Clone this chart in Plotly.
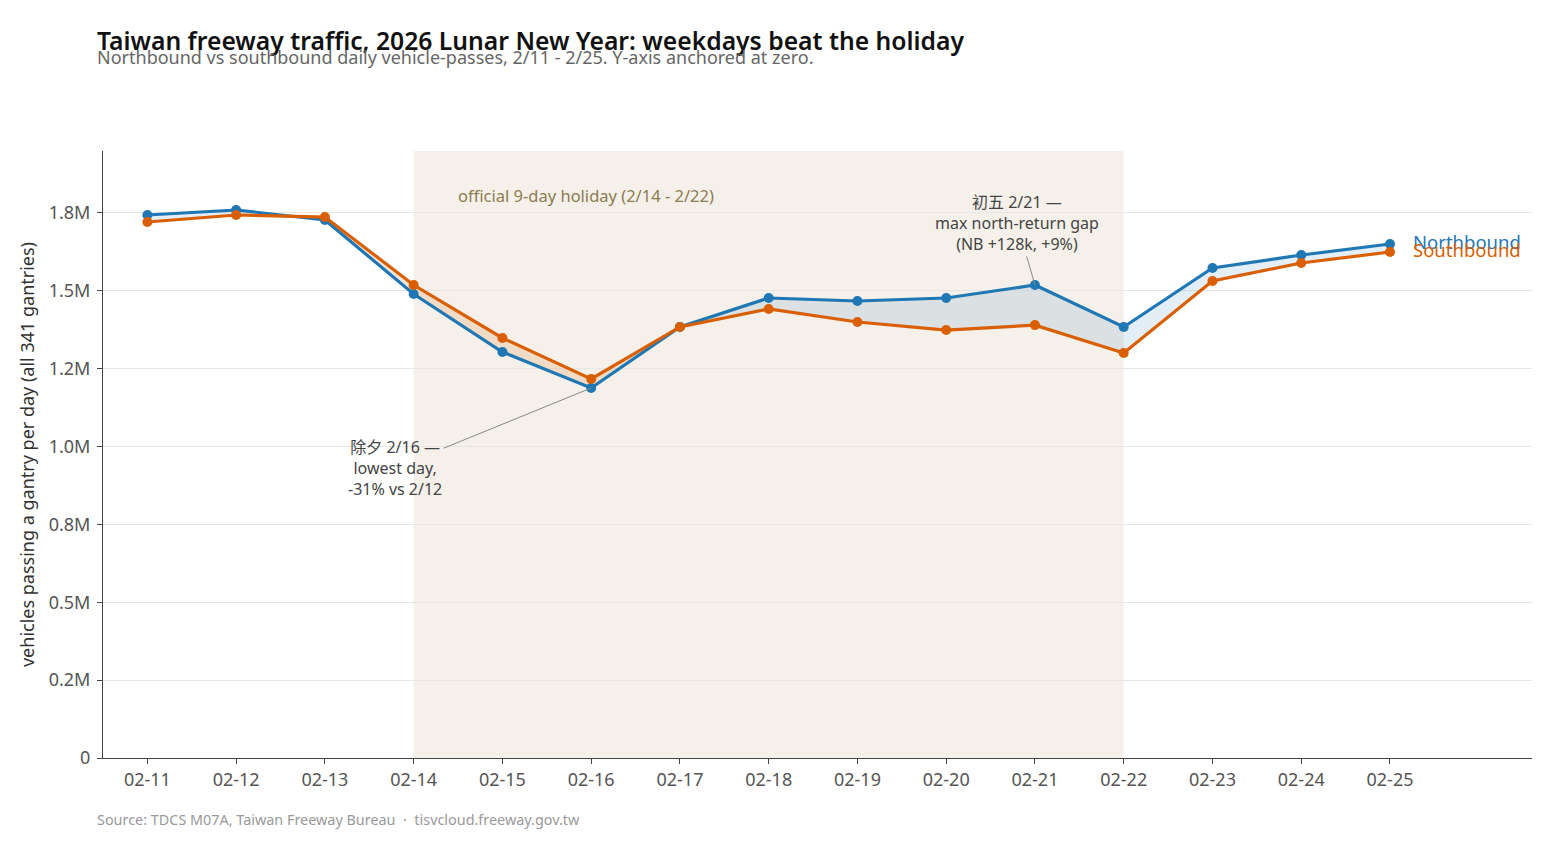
import plotly.graph_objects as go

dates = ["02-11", "02-12", "02-13", "02-14", "02-15", "02-16", "02-17", "02-18",
         "02-19", "02-20", "02-21", "02-22", "02-23", "02-24", "02-25"]
northbound = [1743500, 1759600, 1727500, 1489800, 1303600, 1188000, 1384000, 1477000,
              1467400, 1477000, 1518700, 1384000, 1573300, 1615000, 1650400]
southbound = [1721000, 1743500, 1737000, 1518700, 1348600, 1217000, 1384000, 1441700,
              1400000, 1374000, 1390000, 1300400, 1531600, 1589400, 1624700]
ytick_vals = [0, 250000, 500000, 750000, 1000000, 1250000, 1500000, 1750000]
ytick_text = ["0", "0.2M", "0.5M", "0.8M", "1.0M", "1.2M", "1.5M", "1.8M"]

NB_COL = "#1f77b4"
SB_COL = "#d95f02"
FONT = "Noto Sans, Noto Sans CJK TC, sans-serif"

xs = list(range(len(dates)))
fig = go.Figure()

# holiday band 2/14 - 2/22
fig.add_vrect(x0=xs[3], x1=xs[11], fillcolor="#f5f1ea", line_width=0, layer="below")

# fill between lines, per segment, split at crossings
for i in range(len(xs) - 1):
    x0, x1 = xs[i], xs[i + 1]
    n0, n1 = northbound[i], northbound[i + 1]
    s0, s1 = southbound[i], southbound[i + 1]
    d0, d1 = n0 - s0, n1 - s1
    pieces = []
    if d0 * d1 < 0:
        t = d0 / (d0 - d1)
        xc = x0 + t * (x1 - x0)
        yc = n0 + t * (n1 - n0)
        pieces.append(([x0, xc, x0], [n0, yc, s0], d0 > 0))
        pieces.append(([xc, x1, x1], [yc, n1, s1], d1 > 0))
    else:
        pieces.append(([x0, x1, x1, x0], [n0, n1, s1, s0], (d0 + d1) >= 0))
    for px, py, nb_up in pieces:
        fig.add_trace(go.Scatter(
            x=px + [px[0]], y=py + [py[0]], mode="lines", fill="toself",
            fillcolor="rgba(31,119,180,0.12)" if nb_up else "rgba(217,95,2,0.15)",
            line=dict(width=0), hoverinfo="skip", showlegend=False))

fig.add_trace(go.Scatter(x=xs, y=northbound, mode="lines+markers", name="Northbound",
                         line=dict(color=NB_COL, width=3.2), marker=dict(size=10, color=NB_COL),
                         showlegend=False))
fig.add_trace(go.Scatter(x=xs, y=southbound, mode="lines+markers", name="Southbound",
                         line=dict(color=SB_COL, width=3.2), marker=dict(size=10, color=SB_COL),
                         showlegend=False))

# end labels
fig.add_annotation(x=xs[-1], y=northbound[-1], text="Northbound", showarrow=False,
                   xanchor="left", yanchor="middle", xshift=21, yshift=3,
                   font=dict(family=FONT, size=18.5, color=NB_COL))
fig.add_annotation(x=xs[-1], y=southbound[-1], text="Southbound", showarrow=False,
                   xanchor="left", yanchor="middle", xshift=21, yshift=3,
                   font=dict(family=FONT, size=18.5, color=SB_COL))

# holiday label
fig.add_annotation(x=3.5, y=0.9275, yref="paper", text="official 9-day holiday (2/14 - 2/22)",
                   showarrow=False, xanchor="left", yanchor="middle", xshift=-2,
                   font=dict(family=FONT, size=16.5, color="#8c7b50"))

# callouts
fig.add_annotation(x=xs[10], y=northbound[10],
                   text="初五 2/21 —<br>max north-return gap<br>(NB +128k, +9%)",
                   showarrow=True, arrowhead=0, arrowwidth=1, arrowcolor="#888888",
                   ax=-18, ay=-62, align="center",
                   font=dict(family=FONT, size=16, color="#444444"))
fig.add_annotation(x=xs[5], y=northbound[5],
                   text="除夕 2/16 —<br>lowest day,<br>-31% vs 2/12",
                   showarrow=True, arrowhead=0, arrowwidth=1, arrowcolor="#888888",
                   ax=-196, ay=80, align="center",
                   font=dict(family=FONT, size=16, color="#444444"))

# subtitle and source
fig.add_annotation(x=-0.0056, xref="paper", y=1.155, yref="paper",
                   text="Northbound vs southbound daily vehicle-passes, 2/11 - 2/25. Y-axis anchored at zero.",
                   showarrow=False, xanchor="left", yanchor="middle",
                   font=dict(family=FONT, size=18, color="#666666"))
fig.add_annotation(x=-0.0056, xref="paper", y=-0.1005, yref="paper",
                   text="Source: TDCS M07A, Taiwan Freeway Bureau  ·  tisvcloud.freeway.gov.tw",
                   showarrow=False, xanchor="left", yanchor="middle",
                   font=dict(family=FONT, size=14.4, color="#999999"))

fig.update_layout(
    width=1560, height=845,
    margin=dict(l=103, r=28, t=151, b=87),
    paper_bgcolor="white", plot_bgcolor="white",
    title=dict(text="Taiwan freeway traffic, 2026 Lunar New Year: weekdays beat the holiday",
               x=97 / 1560, xanchor="left", y=1 - 41 / 845, yanchor="middle",
               font=dict(family=FONT, size=24.7, color="#111111", weight=600)),
    font=dict(family=FONT),
    xaxis=dict(range=[-0.5, 15.6], tickvals=xs, ticktext=dates, showgrid=False,
               showline=True, linecolor="#444444", linewidth=1, ticks="outside",
               ticklen=5, tickcolor="#444444", zeroline=False,
               tickfont=dict(family=FONT, size=18, color="#555555")),
    yaxis=dict(range=[0, 1949000], tickvals=ytick_vals, ticktext=ytick_text,
               showgrid=True, gridcolor="#e6e6e6", gridwidth=1,
               showline=True, linecolor="#444444", linewidth=1, ticks="outside",
               ticklen=5, tickcolor="#444444", zeroline=False, ticklabelstandoff=3,
               tickfont=dict(family=FONT, size=18, color="#555555"),
               title=dict(text="vehicles passing a gantry per day (all 341 gantries)",
                          font=dict(family=FONT, size=18, color="#333333"), standoff=9)),
)

fig.write_html("out.html")
